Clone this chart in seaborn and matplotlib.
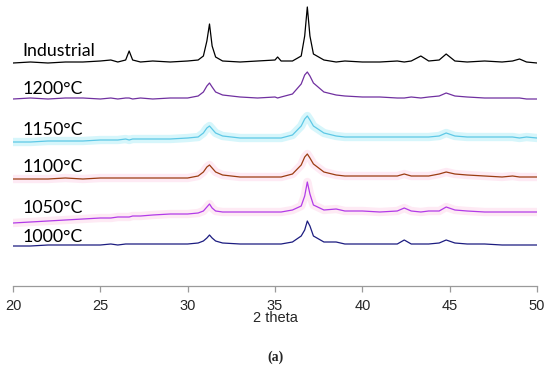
import numpy as np
import pandas as pd
import matplotlib
matplotlib.use('Agg')
import matplotlib.pyplot as plt
import seaborn as sns

# 2-theta grid shared by all patterns (denser around the peaks)
two_theta = [20, 21, 22, 23, 24, 25, 25.6, 26, 26.45, 26.65, 26.85, 27.3, 28, 29, 30,
             30.6, 30.9, 31.1, 31.25, 31.4, 31.6, 32, 33, 34, 35, 35.15, 35.35, 36,
             36.5, 36.7, 36.85, 37.0, 37.2, 37.8, 38.5, 39, 40, 41, 42, 42.4, 42.8,
             43.35, 43.8, 44.4, 44.8, 45.3, 46, 47, 48, 48.6, 49, 49.4, 50]

# intensities (arbitrary units, already stacked)
industrial = [223, 224, 223, 224, 224, 225, 226, 224, 226, 235, 226, 224, 225, 224, 225,
              226, 230, 245, 262, 240, 229, 225, 224, 225, 226, 229, 225, 225,
              230, 250, 279, 250, 232, 226, 224, 225, 224, 224, 225, 224, 225,
              230, 225, 226, 232, 225, 224, 225, 224, 225, 227, 224, 223]
t1200 = [187, 188, 187, 188, 188, 187, 188, 187, 188, 188, 187, 188, 187, 188, 188,
         190, 194, 200, 203, 199, 194, 191, 189, 188, 189, 188, 189, 192,
         202, 211, 214, 210, 203, 194, 191, 190, 189, 189, 188, 188, 189,
         188, 189, 190, 193, 190, 189, 188, 188, 188, 188, 187, 187]
t1150 = [144, 144, 145, 145, 145, 146, 146, 146, 147, 146, 147, 147, 147, 147, 148,
         149, 153, 158, 160, 157, 153, 150, 148, 148, 148, 148, 148, 151,
         160, 167, 170, 166, 160, 153, 150, 149, 149, 149, 149, 149, 149,
         149, 149, 150, 153, 150, 149, 149, 149, 149, 148, 149, 148]
t1100 = [107, 107, 107, 108, 107, 108, 108, 108, 108, 108, 108, 108, 108, 108, 108,
         110, 114, 119, 121, 118, 114, 111, 109, 109, 109, 109, 109, 112,
         121, 129, 132, 128, 122, 114, 111, 110, 110, 110, 110, 112, 110,
         110, 110, 112, 114, 112, 111, 110, 109, 110, 109, 109, 109]
t1050 = [63, 64, 65, 66, 67, 68, 68, 69, 69, 69, 70, 70, 71, 72, 72,
         73, 75, 79, 82, 78, 75, 74, 74, 74, 74, 74, 74, 76,
         80, 90, 104, 92, 81, 76, 77, 75, 75, 74, 75, 78, 75,
         74, 75, 75, 79, 76, 75, 74, 74, 74, 74, 74, 74]
t1000 = [40, 40, 41, 41, 41, 41, 42, 41, 42, 42, 42, 42, 42, 42, 42,
         43, 45, 48, 51, 48, 45, 43, 42, 42, 42, 42, 42, 44,
         50, 56, 65, 60, 50, 44, 44, 42, 42, 42, 42, 46, 42,
         42, 42, 43, 46, 43, 42, 42, 41, 41, 41, 41, 41]

samples = ['Industrial', '1200°C', '1150°C', '1100°C', '1050°C', '1000°C']
series = [industrial, t1200, t1150, t1100, t1050, t1000]
colors = ['#000000', '#7030a0', '#5ec8e6', '#9b3d12', '#b23be8', '#1c1c80']
halo = {'1150°C': '#d6f6fb', '1100°C': '#feeaf4', '1050°C': '#feeaf4'}
label_y = [228.7, 190, 149.3, 112.7, 71.7, 42.7]

df = pd.DataFrame({
    'two_theta': np.tile(two_theta, len(samples)),
    'intensity': np.concatenate(series),
    'sample': np.repeat(samples, len(two_theta)),
})

sns.set_style('white')
fig = plt.figure(figsize=(5.5, 3.69), dpi=100)
ax = fig.add_axes([13 / 550, 83 / 369, 524 / 550, 286 / 369])

# faint coloured bands behind some traces
for name, c in halo.items():
    sns.lineplot(data=df[df['sample'] == name], x='two_theta', y='intensity',
                 color=c, lw=6, ax=ax, legend=False, zorder=1)

sns.lineplot(data=df, x='two_theta', y='intensity', hue='sample',
             palette=dict(zip(samples, colors)), hue_order=samples,
             lw=0.9, estimator=None, sort=False, legend=False, ax=ax, zorder=3)

for name, y in zip(samples, label_y):
    ax.text(20.55, y + 1.5, name, fontsize=12.8, family='Lato', va='baseline',
            ha='left', color='black', zorder=4)

ax.set_xlim(20, 50)
ax.set_ylim(0, 286)
ax.set_xticks(range(20, 51, 5))
ax.set_yticks([])
ax.set_ylabel('')
ax.set_xlabel('2 theta', fontsize=10.5, family='Liberation Sans', labelpad=-1)
for s in ['left', 'top', 'right']:
    ax.spines[s].set_visible(False)
ax.spines['bottom'].set_color('#9a9a9a')
ax.spines['bottom'].set_linewidth(0.9)
ax.tick_params(axis='x', direction='out', length=4, width=0.9, color='#9a9a9a',
               bottom=True, labelsize=10.5, pad=5)
for t in ax.get_xticklabels():
    t.set_family('Liberation Sans')

fig.text(275 / 550, 1 - 357 / 369, '(a)', ha='center', va='center',
         family='Liberation Serif', fontweight='bold', fontsize=10)

fig.savefig('out.png', dpi=100)
